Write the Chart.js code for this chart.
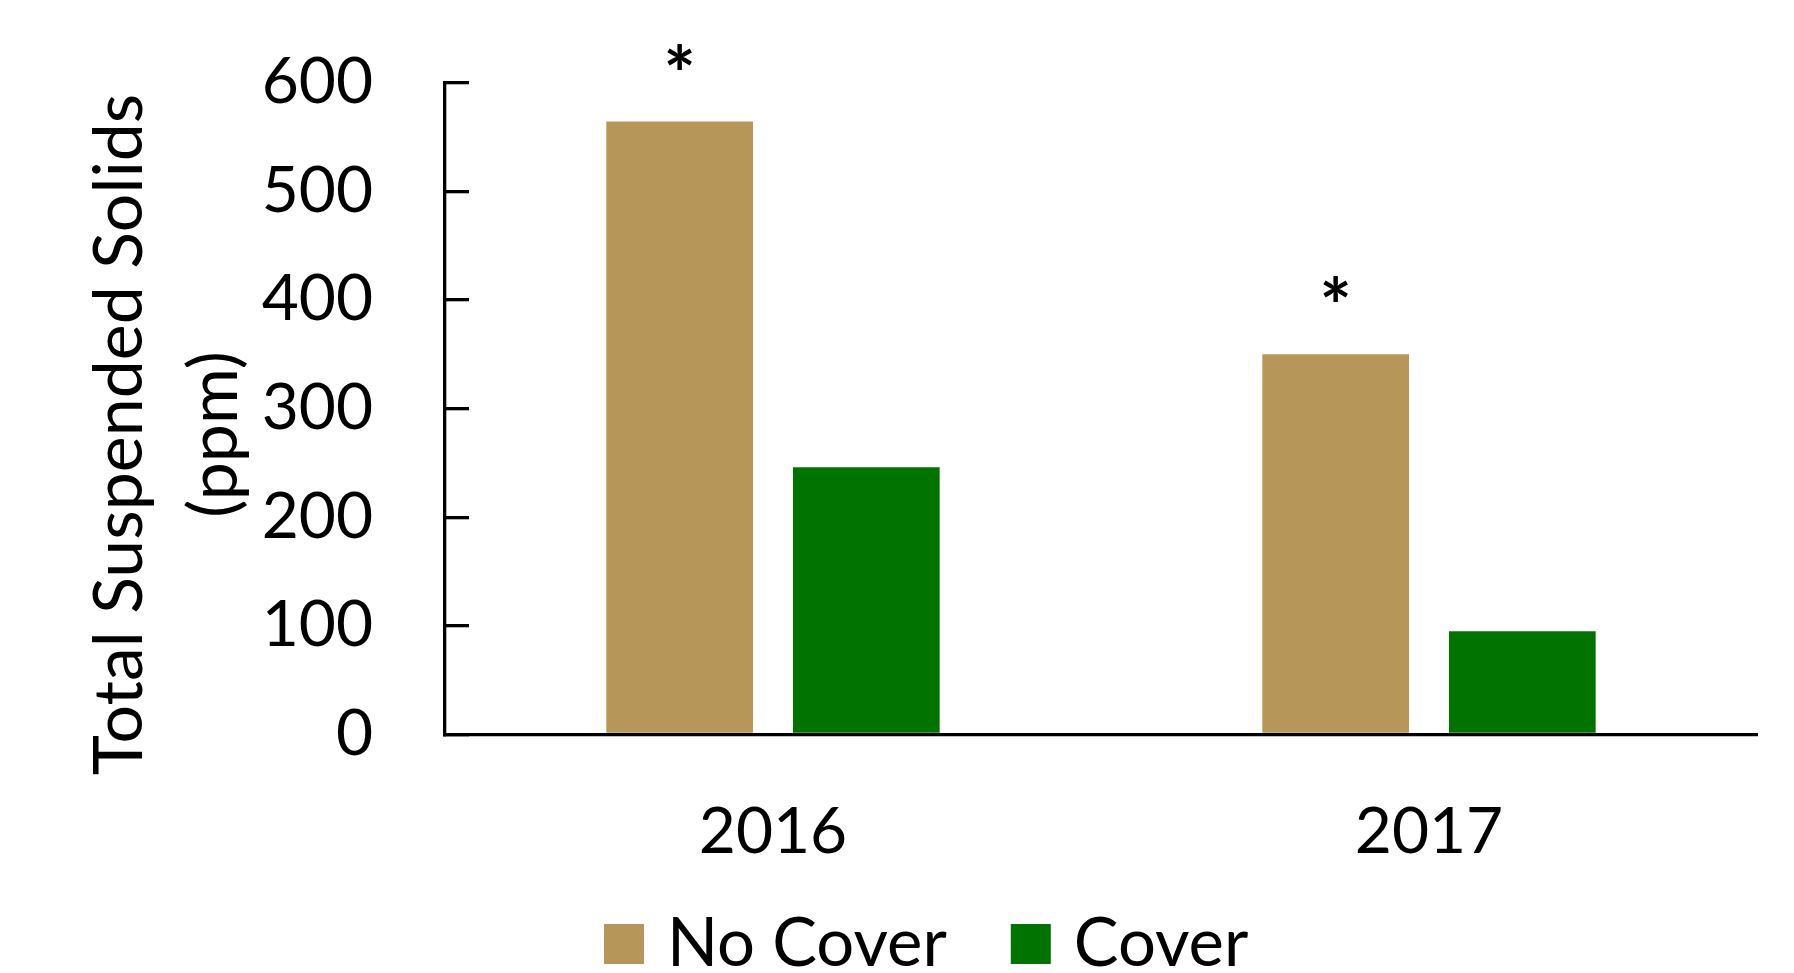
<!DOCTYPE html>
<html>
<head>
<meta charset="utf-8">
<title>Total Suspended Solids</title>
<script src="https://cdn.jsdelivr.net/npm/chart.js@4/dist/chart.umd.min.js"></script>
<style>
  html, body { margin: 0; padding: 0; background: #fff; }
  #wrap { width: 1794px; height: 973px; position: relative; }
</style>
</head>
<body>
<div id="wrap"><canvas id="tss-chart"></canvas></div>
<script>
  // ── Data ──────────────────────────────────────────────────────────────────
  const years      = ['2016', '2017'];
  const noCover    = [564, 350];
  const cover      = [246, 95];
  const sigMarks   = ['*', '*'];          // significance marks over the No Cover bars
  const yTicks     = [0, 100, 200, 300, 400, 500, 600];
  const yTitle     = ['Total Suspended Solids', '(ppm)'];

  const TAN   = '#B69759';
  const GREEN = '#007300';
  const FONT  = 'Lato, "Open Sans", sans-serif';

  // ── Rotated two-line y-axis title ─────────────────────────────────────────
  const axisTitle = {
    id: 'axisTitle',
    afterDraw(chart) {
      const { ctx, chartArea } = chart;
      const cy = (chartArea.top + chartArea.bottom) / 2 + 26;
      ctx.save();
      ctx.fillStyle = '#000';
      ctx.font = '68px ' + FONT;
      ctx.textAlign = 'center';
      ctx.textBaseline = 'middle';
      yTitle.forEach((line, i) => {
        ctx.save();
        ctx.translate(120 + i * 95, cy);
        ctx.rotate(-Math.PI / 2);
        ctx.fillText(line, 0, 0);
        ctx.restore();
      });
      ctx.restore();
    }
  };

  // ── Asterisks over the bars ───────────────────────────────────────────────
  const sigLabels = {
    id: 'sigLabels',
    afterDatasetsDraw(chart) {
      const { ctx } = chart;
      const meta = chart.getDatasetMeta(0);
      ctx.save();
      ctx.fillStyle = '#000';
      ctx.font = 'bold 76px ' + FONT;
      ctx.textAlign = 'center';
      ctx.textBaseline = 'alphabetic';
      meta.data.forEach((bar, i) => {
        if (sigMarks[i]) ctx.fillText(sigMarks[i], bar.x, bar.y - 20);
      });
      ctx.restore();
    }
  };

  // ── Legend row under the axis (square swatch + label) ─────────────────────
  const bottomLegend = {
    id: 'bottomLegend',
    afterDraw(chart) {
      const { ctx } = chart;
      const box = 40, gap = 23, spacing = 64, cy = 944;
      let x = 604;
      ctx.save();
      ctx.font = '67px ' + FONT;
      ctx.textBaseline = 'middle';
      ctx.textAlign = 'left';
      chart.data.datasets.forEach(ds => {
        ctx.fillStyle = ds.backgroundColor;
        ctx.fillRect(x, cy - box / 2, box, box);
        x += box + gap;
        ctx.fillStyle = '#000';
        ctx.fillText(ds.label, x, cy);
        x += ctx.measureText(ds.label).width + spacing;
      });
      ctx.restore();
    }
  };

  new Chart(document.getElementById('tss-chart'), {
    type: 'bar',
    data: {
      labels: years,
      datasets: [
        { label: 'No Cover', data: noCover, backgroundColor: TAN },
        { label: 'Cover',    data: cover,   backgroundColor: GREEN }
      ]
    },
    plugins: [axisTitle, sigLabels, bottomLegend],
    options: {
      responsive: true,
      maintainAspectRatio: false,
      animation: false,
      categoryPercentage: 0.569,
      barPercentage: 0.786,
      layout: { padding: { top: 82.5, right: 37, bottom: 88.5, left: 0 } },
      plugins: {
        tooltip: { enabled: false },
        legend: { display: false }
      },
      scales: {
        x: {
          grid: { display: false, drawTicks: false },
          border: { display: true, color: '#000', width: 3.3 },
          ticks: { color: '#000', padding: 59, font: { family: FONT, size: 64 } },
          afterFit: s => { s.height = 150; }
        },
        y: {
          min: 0,
          max: 600,
          afterBuildTicks: s => { s.ticks = yTicks.map(v => ({ value: v })); },
          grid: { drawOnChartArea: false, drawTicks: true, tickLength: -24, color: '#000', lineWidth: 3.3 },
          border: { display: true, color: '#000', width: 3.3 },
          ticks: { color: '#000', padding: 96, font: { family: FONT, size: 64 } },
          afterFit: s => {
            s.width = 445;
            s.paddingTop = 0;
            s.paddingBottom = 0;
          }
        }
      }
    }
  });
</script>
</body>
</html>
